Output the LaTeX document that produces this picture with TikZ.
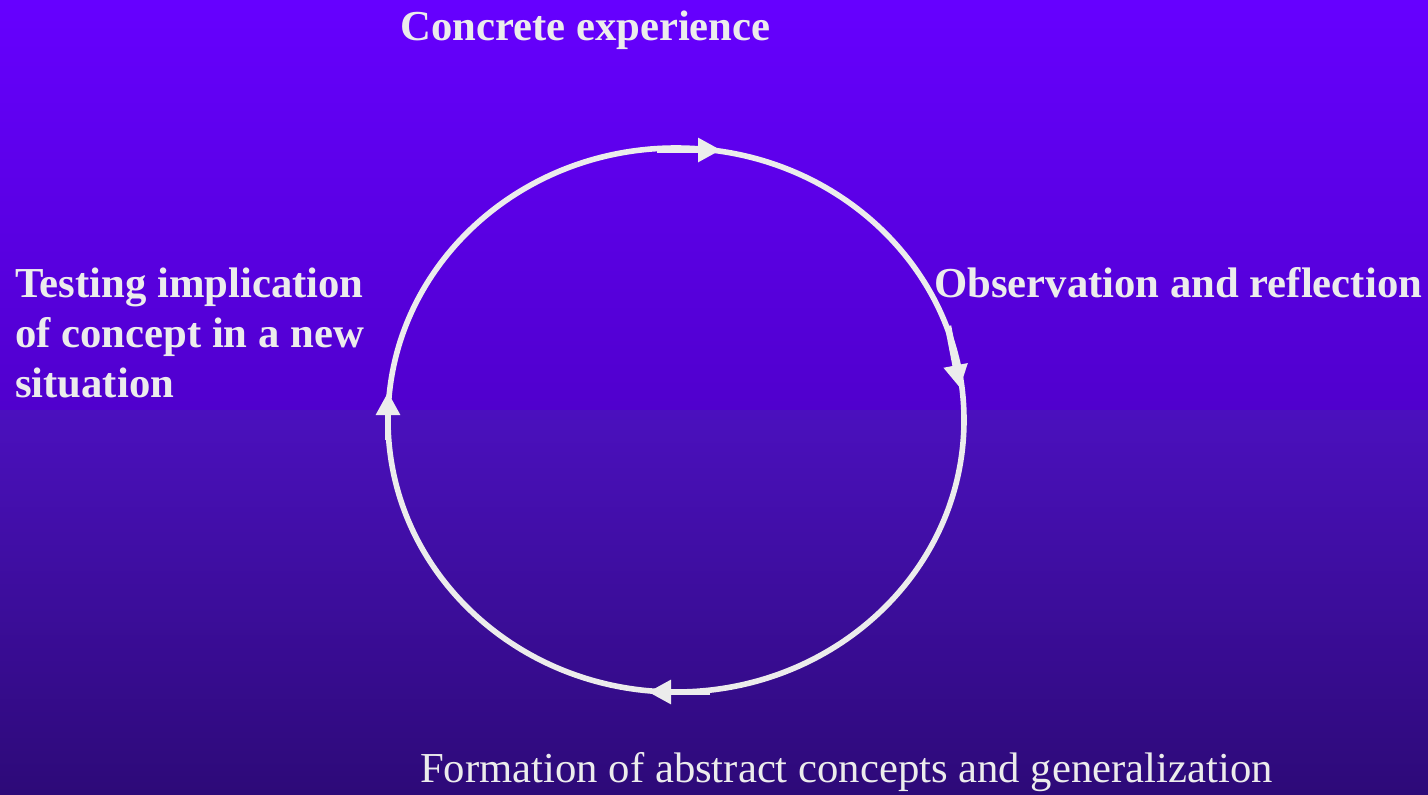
\documentclass[tikz,border=0pt]{standalone}
\usepackage{fontspec}
\setmainfont{Liberation Serif}
\usepackage{tikz}
\usetikzlibrary{arrows.meta, positioning}

\definecolor{bgTop}{RGB}{102,0,255}
\definecolor{bgMid}{RGB}{80,0,205}
\definecolor{bgMidLow}{RGB}{75,16,190}
\definecolor{bgBottom}{RGB}{45,10,120}
\definecolor{ringWhite}{RGB}{236,236,236}

\begin{document}
\begin{tikzpicture}[
    x=1pt, y=-1pt,
    every node/.style={inner sep=0pt, text=ringWhite},
    stage/.style={font=\fontsize{42.7}{50}\selectfont\bfseries, align=left, anchor=base west},
    plainstage/.style={font=\fontsize{42.7}{50}\selectfont, anchor=base west},
    ring/.style={draw=ringWhite, line width=5.6pt},
    stub/.style={draw=ringWhite, line width=6.5pt, -{Triangle[length=23pt, width=23pt]}}
]
% background, two gradients
\shade[top color=bgTop, bottom color=bgMid] (0,0) rectangle (1428,410);
\shade[top color=bgMidLow, bottom color=bgBottom] (0,410) rectangle (1428,795);
\useasboundingbox (0,0) rectangle (1428,795);

% the cycle
\draw[ring] (676,420) ellipse [x radius=288, y radius=272];

% labels
\node[stage] (experience) at (400,40) {Concrete experience};
\node[stage] (reflection) at (934,297) {Observation and reflection};
\node[stage] (testing) at (15,397) {Testing implication\\of concept in a new\\situation};
\node[plainstage] (abstraction) at (420,782) {Formation of abstract concepts and generalization};

% direction marks on the ring
\coordinate (topA) at (657,150);
\coordinate (topB) at (721,150);
\coordinate (rightA) at (948,326);
\coordinate (rightB) at (960,388);
\coordinate (bottomA) at (710,692);
\coordinate (bottomB) at (648,692);
\coordinate (leftA) at (388,440);
\coordinate (leftB) at (388,392);
\draw[stub] (topA) -- (topB);
\draw[stub] (rightA) -- (rightB);
\draw[stub] (bottomA) -- (bottomB);
\draw[stub] (leftA) -- (leftB);
\end{tikzpicture}
\end{document}
